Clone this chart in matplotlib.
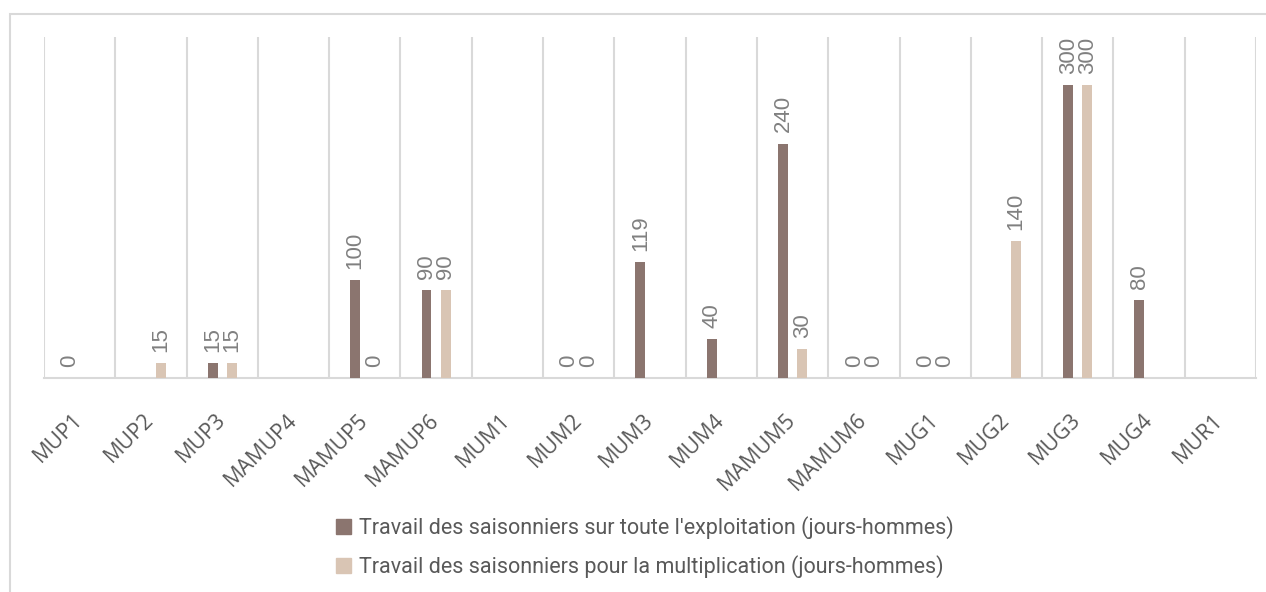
import matplotlib
matplotlib.use("Agg")
import matplotlib.pyplot as plt
import numpy as np
from matplotlib.patches import Rectangle

categories = ["MUP1", "MUP2", "MUP3", "MAMUP4", "MAMUP5", "MAMUP6", "MUM1", "MUM2",
              "MUM3", "MUM4", "MAMUM5", "MAMUM6", "MUG1", "MUG2", "MUG3", "MUG4", "MUR1"]
nan = np.nan
exploitation = [0, nan, 15, nan, 100, 90, nan, 0, 119, 40, 240, 0, 0, nan, 300, 80, nan]
multiplication = [nan, 15, 15, nan, 0, 90, nan, 0, nan, nan, 30, 0, 0, 140, 300, nan, nan]
series_names = ["Travail des saisonniers sur toute l'exploitation (jours-hommes)",
                "Travail des saisonniers pour la multiplication (jours-hommes)"]

colors = ["#8B756F", "#D9C5B4"]
grid_color = "#D9D9D9"

W, H = 1266, 592
fig = plt.figure(figsize=(W / 100, H / 100), dpi=100)

# light frame around the chart area
fig.patches.append(Rectangle((10 / W, -0.1), 1.1, 1.1 - 14 / H, transform=fig.transFigure,
                             fill=False, edgecolor=grid_color, linewidth=1.5))

ax = fig.add_axes([44 / W, 1 - 378 / H, (1256 - 44) / W, (378 - 37) / H])
x = np.arange(len(categories))
offset = 0.135
width = 0.14

for vals, dx, col in [(exploitation, -offset, colors[0]), (multiplication, offset, colors[1])]:
    v = np.array(vals, dtype=float)
    mask = ~np.isnan(v)
    bars = ax.bar(x[mask] + dx, v[mask], width=width, color=col, zorder=3)
    for b, val in zip(bars, v[mask]):
        ax.annotate(f"{int(val)}", (b.get_x() + b.get_width() / 2, val),
                    xytext=(0, 8), textcoords="offset points", rotation=90,
                    ha="center", va="bottom", fontsize=16, color="#808080",
                    family="Liberation Sans")

ax.set_xlim(-0.5, len(categories) - 0.5)
ax.set_ylim(0, 349)

# vertical separators between categories
for b in np.arange(-0.5, len(categories), 1.0):
    ax.axvline(b, color=grid_color, linewidth=1.5, zorder=1)

for s in ["top", "right", "left"]:
    ax.spines[s].set_visible(False)
ax.spines["bottom"].set_color(grid_color)
ax.spines["bottom"].set_linewidth(1.5)
ax.set_yticks([])
ax.set_xticks(x)
ax.set_xticklabels(categories, rotation=45, ha="right", va="center", rotation_mode="anchor",
                   fontsize=15.5, color="#595959", family="Open Sans")
ax.tick_params(axis="x", length=0, pad=28)

handles = [Rectangle((0, 0), 1, 1, color=c) for c in colors]
fig.legend(handles, series_names, loc="upper center", bbox_to_anchor=(645 / W, 1 - 497 / H),
           ncol=1, frameon=False, labelcolor="#595959",
           prop={"family": "Roboto", "size": 15.5}, handlelength=0.7, handleheight=0.7,
           handletextpad=0.4, labelspacing=0.75)

fig.savefig("out.png", dpi=100)
